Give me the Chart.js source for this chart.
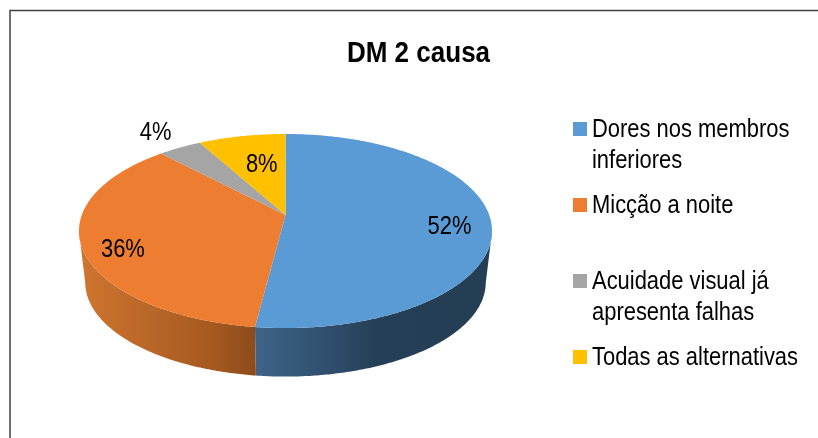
<!DOCTYPE html>
<html><head><meta charset="utf-8">
<style>html,body{margin:0;padding:0;background:#fff}#w{position:relative;width:818px;height:438px;overflow:hidden}canvas{display:block}</style>
<script src="https://cdn.jsdelivr.net/npm/chart.js@4"></script></head>
<body><div id="w"><canvas id="c" width="818" height="438"></canvas></div>
<script>
const titleText = 'DM 2 causa';
const categories = ['Dores nos membros inferiores', 'Micção a noite', 'Acuidade visual já apresenta falhas', 'Todas as alternativas'];
const legendLines = [['Dores nos membros', 'inferiores'], ['Micção a noite'], ['Acuidade visual já', 'apresenta falhas'], ['Todas as alternativas']];
const values = [52, 36, 4, 8];
const colors = ['#5b9bd5', '#ed7d31', '#a5a5a5', '#ffc000'];
const FONT = '"Liberation Sans",Arial,sans-serif';
const NARROW = 0.86;

// projected disc: ellipse centre, hub offset, perspective
const P = {cx: 285.5, ey: 231, a: 203.7, b: 94.4, c: 16, k: 0.165};
const B = {cx: 285.5, ey: 282.5, a: 197.5, b: 91.5, c: 15.5, k: 0.165};
function proj(g, ang, f) { // ang: chart.js angle (0 = 3 o'clock, clockwise)
  const u = Math.cos(ang) * f, v = -Math.sin(ang) * f, w = 1 + g.k * v;
  return [g.cx + g.a * u / w, g.ey - (g.b * v / w + g.c)];
}
function trace(ctx, g, a0, a1, move) {
  const n = Math.max(2, Math.ceil(Math.abs(a1 - a0) / 0.01));
  for (let i = 0; i <= n; i++) {
    const p = proj(g, a0 + (a1 - a0) * i / n, 1);
    (i === 0 && move) ? ctx.moveTo(p[0], p[1]) : ctx.lineTo(p[0], p[1]);
  }
}
function narrowText(ctx, t, x, y) {
  ctx.save(); ctx.translate(x, y); ctx.scale(NARROW, 1); ctx.fillText(t, 0, 0); ctx.restore();
}
const wallLimitR = 0.17, wallLimitL = Math.PI - 0.17;
const wallStops = [
  [[255, '#3f6488'], [330, '#2f4e6c'], [378, '#253f56'], [492, '#243e54']],
  [[80, '#cf752e'], [150, '#b96629'], [215, '#a5591f'], [256, '#8c4b1c']]
];
const pie3d = {
  id: 'pie3d',
  beforeDatasetDraw(chart, args) {
    const ctx = chart.ctx, arcs = args.meta.data;
    ctx.save();
    arcs.forEach((arc, i) => {
      const s = Math.max(arc.startAngle, wallLimitR), e = Math.min(arc.endAngle, wallLimitL);
      if (e <= s || !wallStops[i]) return;
      const g = ctx.createLinearGradient(0, 0, 818, 0);
      wallStops[i].forEach(st => g.addColorStop(st[0] / 818, st[1]));
      ctx.beginPath(); trace(ctx, P, s, e, true); trace(ctx, B, e, s, false); ctx.closePath();
      ctx.fillStyle = g; ctx.fill();
    });
    arcs.forEach((arc, i) => {
      const hub = proj(P, arc.startAngle, 0);
      ctx.beginPath(); ctx.moveTo(hub[0], hub[1]); trace(ctx, P, arc.startAngle, arc.endAngle, false); ctx.closePath();
      ctx.fillStyle = colors[i]; ctx.fill();
    });
    ctx.restore();
    return false;
  },
  afterDraw(chart) {
    const ctx = chart.ctx, arcs = chart.getDatasetMeta(0).data;
    ctx.save();
    ctx.fillStyle = '#000';
    ctx.font = '25.5px ' + FONT;
    ctx.textAlign = 'center'; ctx.textBaseline = 'middle';
    const place = [[0.8, 0, 7], [0.8, -1, 11], [1.2, -6, -3], [0.6, 4, 0]];
    arcs.forEach((arc, i) => {
      const p = proj(P, (arc.startAngle + arc.endAngle) / 2, place[i][0]);
      narrowText(ctx, values[i] + '%', p[0] + place[i][1], p[1] + place[i][2]);
    });
    ctx.textAlign = 'left'; ctx.textBaseline = 'alphabetic';
    let top = 122;
    legendLines.forEach((lines, i) => {
      ctx.fillStyle = colors[i]; ctx.fillRect(573, top, 14, 14);
      ctx.fillStyle = '#000';
      lines.forEach((t, j) => narrowText(ctx, t, 592, top + 15 + j * 30.5));
      top += 76;
    });
    ctx.restore();
  },
  beforeDraw(chart) {
    const ctx = chart.ctx;
    ctx.save(); ctx.strokeStyle = '#404040'; ctx.lineWidth = 1.5;
    ctx.beginPath(); ctx.moveTo(10, 438); ctx.lineTo(10, 10.5); ctx.lineTo(818, 10.5); ctx.stroke();
    ctx.restore();
    const tb = chart.titleBlock;
    if (tb && !tb._narrowed) {
      const draw = tb.draw.bind(tb);
      tb.draw = function () {
        const cx = tb.left + tb.width / 2;
        ctx.save(); ctx.translate(cx, 0); ctx.scale(0.867, 1); ctx.translate(-cx, 0);
        draw(); ctx.restore();
      };
      tb._narrowed = true;
    }
  }
};
new Chart(document.getElementById('c'), {
  type: 'pie',
  data: {labels: categories, datasets: [{data: values, backgroundColor: colors, borderWidth: 0}]},
  options: {
    responsive: false, animation: false,
    layout: {padding: {left: 19}},
    plugins: {
      legend: {display: false}, tooltip: {enabled: false},
      title: {display: true, text: titleText, fullSize: false, color: '#000',
        font: {family: FONT, size: 30, weight: 'bold'}, padding: {top: 36, bottom: 10}}
    }
  },
  plugins: [pie3d]
});
</script></body></html>
